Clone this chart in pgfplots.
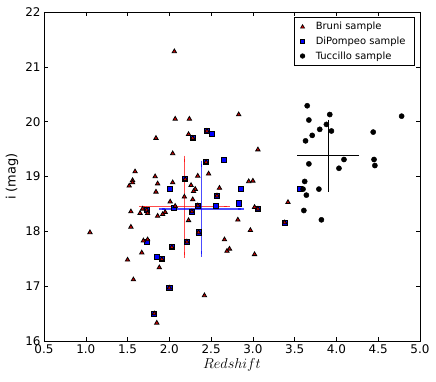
\documentclass[border=0pt]{standalone}
\usepackage{pgfplots}
\pgfplotsset{compat=1.18}
\usepackage{fontspec}
\setmainfont{DejaVu Sans}

\begin{document}
\begin{tikzpicture}
\path[use as bounding box] (-44bp,-41bp) rectangle (392bp,341bp);
\begin{axis}[
	at={(0,0)}, anchor=south west,
	scale only axis,
	width=376bp, height=329bp,
	xmin=0.5, xmax=5.0,
	ymin=16, ymax=22,
	xtick={0.5,1.0,...,5.0},
	ytick={16,17,...,22},
	xticklabel style={/pgf/number format/.cd, fixed, fixed zerofill, precision=1},
	/pgf/number format/assume math mode=true,
	tick label style={font=\fontsize{12}{14}\selectfont},
	tick align=inside,
	major tick length=4bp,
	tick style={black, line width=0.5bp},
	axis line style={line width=0.9bp},
	xlabel={$Redshift$},
	ylabel={i (mag)},
	xlabel style={font=\fontsize{15}{17}\selectfont, yshift=2bp},
	ylabel style={font=\fontsize{13}{15}\selectfont},
	legend style={at={(1,1)}, anchor=north east, xshift=-5bp, yshift=-5bp,
		font=\fontsize{10}{12}\selectfont, draw=black, line width=0.8bp,
		row sep=1.5bp, inner xsep=6bp, inner ysep=3bp,
		nodes={inner xsep=3bp},
		/tikz/every odd column/.append style={column sep=8bp}},
	legend cell align=left,
]
% error bars (mean and spread of each sample)
\addplot[forget plot, red, opacity=0.7, mark=none,
	error bars/.cd, x dir=both, x explicit, y dir=both, y explicit,
	error bar style={red, line width=1.4bp},
	error mark options={red, mark size=3bp, line width=1.4bp}]
	coordinates {(2.18,18.45) +- (0.505,0.875)};
\addplot[forget plot, blue, opacity=0.7, mark=none,
	error bars/.cd, x dir=both, x explicit, y dir=both, y explicit,
	error bar style={blue, line width=1.4bp},
	error mark options={blue, mark size=3bp, line width=1.4bp}]
	coordinates {(2.385,18.41) +- (0.475,0.815)};
\addplot[forget plot, black, mark=none,
	error bars/.cd, x dir=both, x explicit, y dir=both, y explicit,
	error bar style={black, line width=1bp},
	error mark options={black, mark size=3bp, line width=1bp}]
	coordinates {(3.90,19.38) +- (0.335,0.60)};

% DiPompeo sample
\addplot[forget plot, only marks, mark=square*, mark size=2.6bp,
	mark options={fill=blue, draw=black, line width=0.8bp}]
	coordinates {
	(2.51,19.77) (2.65,19.31) (2.01,18.77) (2.86,18.77) (3.56,18.78)
	(2.56,18.47) (2.83,18.51) (1.73,17.80) (1.85,17.53) (2.05,18.43)
	(2.45,19.83) (2.28,19.70) (2.44,19.26) (2.19,18.95) (2.57,18.65)
	(2.34,18.47) (1.73,18.39) (2.27,18.36) (2.35,17.98) (2.21,17.81)
	(2.03,17.71) (1.91,17.49) (2.00,16.97) (1.82,16.50) (3.06,18.41)
	(3.38,18.16)
	};

% Bruni sample
\addplot[forget plot, only marks, mark=triangle*, mark size=2.5bp,
	mark options={fill=red!80!black, draw=black, line width=0.8bp}]
	coordinates {
	(2.06,21.28) (2.07,20.05) (2.24,20.05) (2.83,20.13) (2.45,19.83)
	(2.23,19.77) (2.28,19.70) (1.84,19.70) (2.04,19.42) (3.06,19.49)
	(2.44,19.26) (1.59,19.09) (1.83,19.00) (2.34,19.01) (2.47,19.05)
	(2.19,18.95) (1.56,18.93) (1.56,18.89) (1.52,18.83) (1.86,18.87)
	(2.04,18.89) (2.60,18.79) (2.26,18.84) (2.31,18.77) (2.29,18.73)
	(2.57,18.65) (1.84,18.72) (2.18,18.63) (2.95,18.91) (3.00,18.92)
	(2.01,18.54) (2.28,18.58) (2.07,18.46) (2.34,18.47) (1.68,18.41)
	(1.73,18.39) (1.74,18.33) (1.54,18.36) (1.65,18.33) (1.95,18.35)
	(1.92,18.31) (1.86,18.28) (2.27,18.36) (2.23,18.20) (2.82,18.21)
	(3.42,18.53) (3.02,18.44) (3.06,18.41) (3.38,18.16) (2.97,18.02)
	(1.54,18.08) (1.05,17.98) (2.35,17.98) (1.69,17.83) (1.74,17.85)
	(2.21,17.81) (2.03,17.71) (1.67,17.61) (1.91,17.49) (1.50,17.48)
	(1.88,17.34) (1.57,17.12) (2.00,16.97) (2.66,17.85) (2.69,17.64)
	(2.72,17.68) (3.02,17.58) (1.82,16.50) (1.85,16.33) (2.42,16.83)
	};

% Tuccillo sample
\addplot[forget plot, only marks, mark=*, mark size=2.6bp,
	mark options={fill=black, draw=black}]
	coordinates {
	(3.65,20.29) (3.67,20.03) (3.92,20.13) (4.78,20.10) (3.88,19.95)
	(3.80,19.86) (3.94,19.83) (3.71,19.75) (4.44,19.81) (3.63,19.65)
	(4.09,19.31) (4.45,19.31) (3.67,19.23) (4.46,19.20) (4.03,19.15)
	(3.62,18.91) (3.60,18.77) (3.79,18.77) (3.64,18.66) (3.61,18.38)
	(3.82,18.21)
	};

\addlegendimage{only marks, mark=triangle*, mark size=2.3bp,
	mark options={fill=red!80!black, draw=black, line width=0.6bp}}
\addlegendentry{Bruni sample}
\addlegendimage{only marks, mark=square*, mark size=2.2bp,
	mark options={fill=blue, draw=black, line width=0.6bp}}
\addlegendentry{DiPompeo sample}
\addlegendimage{only marks, mark=*, mark size=2.2bp,
	mark options={fill=black, draw=black}}
\addlegendentry{Tuccillo sample}
\end{axis}
\end{tikzpicture}
\end{document}
